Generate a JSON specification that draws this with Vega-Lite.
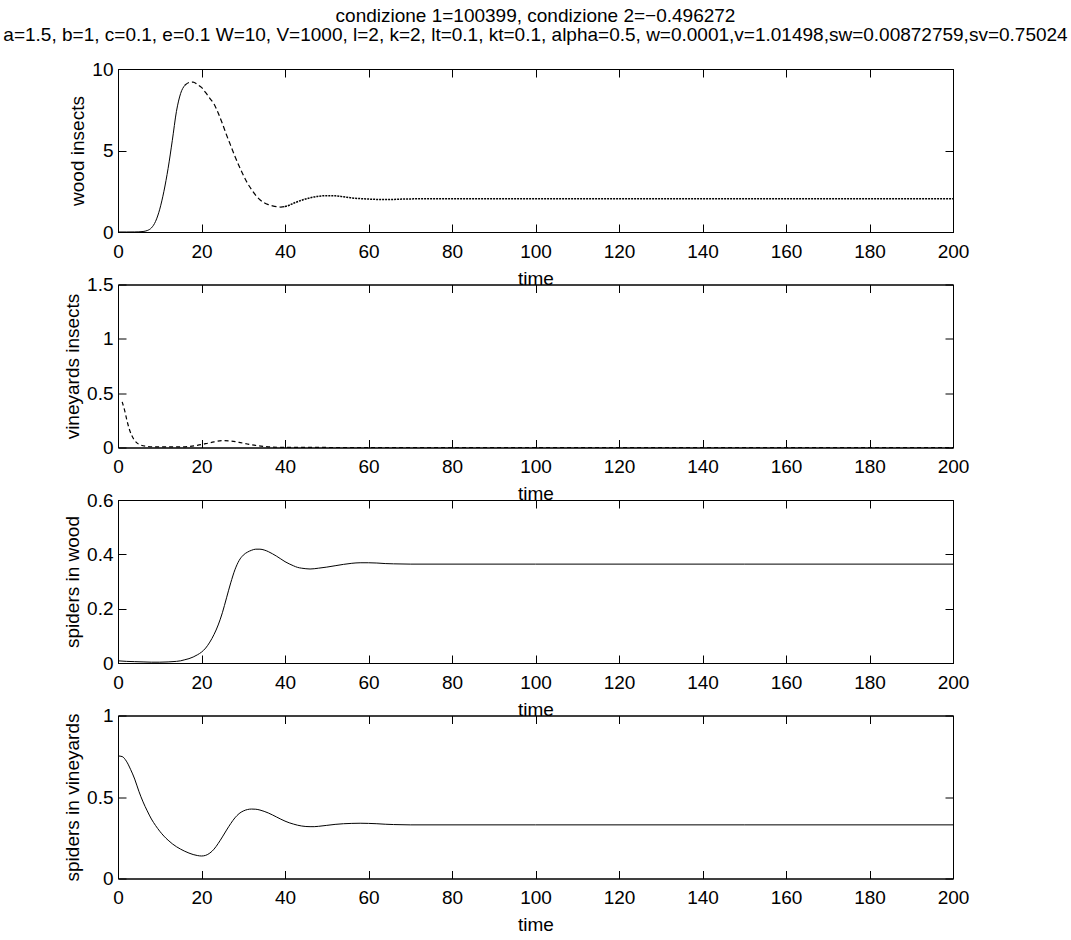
{
  "$schema": "https://vega.github.io/schema/vega-lite/v6.json",
  "padding": {"left": 0, "top": 6, "right": 0, "bottom": 0},
  "title": {
    "text": ["condizione 1=100399, condizione 2=−0.496272", "a=1.5, b=1, c=0.1, e=0.1  W=10, V=1000, l=2, k=2, lt=0.1, kt=0.1, alpha=0.5, w=0.0001,v=1.01498,sw=0.00872759,sv=0.75024"],
    "anchor": "middle",
    "frame": "group",
    "font": "Liberation Sans",
    "fontSize": 19,
    "fontWeight": "normal",
    "lineHeight": 19,
    "color": "black",
    "offset": 15
  },
  "datasets": {
    "d": [
      {"s": "wood", "t": 0, "y": 0.0001}, {"s": "wood", "t": 2, "y": 0.0005}, {"s": "wood", "t": 4, "y": 0.003}, {"s": "wood", "t": 5, "y": 0.01},
      {"s": "wood", "t": 6, "y": 0.03}, {"s": "wood", "t": 7, "y": 0.09}, {"s": "wood", "t": 8, "y": 0.25}, {"s": "wood", "t": 9, "y": 0.65},
      {"s": "wood", "t": 10, "y": 1.4}, {"s": "wood", "t": 11, "y": 2.5}, {"s": "wood", "t": 12, "y": 3.9}, {"s": "wood", "t": 13, "y": 5.6},
      {"s": "wood", "t": 14, "y": 7.4}, {"s": "wood", "t": 15, "y": 8.5}, {"s": "wood", "t": 16, "y": 9.0}, {"s": "wood", "t": 17, "y": 9.17},
      {"s": "wood", "t": 18, "y": 9.2}, {"s": "wood", "t": 19, "y": 9.05}, {"s": "wood", "t": 20, "y": 8.87}, {"s": "wood", "t": 21, "y": 8.55},
      {"s": "wood", "t": 22, "y": 8.2}, {"s": "wood", "t": 23, "y": 7.85}, {"s": "wood", "t": 24, "y": 7.3}, {"s": "wood", "t": 25, "y": 6.65},
      {"s": "wood", "t": 26, "y": 5.95}, {"s": "wood", "t": 27, "y": 5.3}, {"s": "wood", "t": 28, "y": 4.65}, {"s": "wood", "t": 29, "y": 4.05},
      {"s": "wood", "t": 30, "y": 3.5}, {"s": "wood", "t": 31, "y": 3.0}, {"s": "wood", "t": 32, "y": 2.6}, {"s": "wood", "t": 33, "y": 2.25},
      {"s": "wood", "t": 34, "y": 1.98}, {"s": "wood", "t": 35, "y": 1.8}, {"s": "wood", "t": 36, "y": 1.68}, {"s": "wood", "t": 37, "y": 1.6},
      {"s": "wood", "t": 38, "y": 1.55}, {"s": "wood", "t": 39, "y": 1.53}, {"s": "wood", "t": 40, "y": 1.56}, {"s": "wood", "t": 41, "y": 1.64},
      {"s": "wood", "t": 42, "y": 1.76}, {"s": "wood", "t": 43, "y": 1.86}, {"s": "wood", "t": 44, "y": 1.95}, {"s": "wood", "t": 46, "y": 2.1},
      {"s": "wood", "t": 48, "y": 2.19}, {"s": "wood", "t": 50, "y": 2.23}, {"s": "wood", "t": 52, "y": 2.22}, {"s": "wood", "t": 54, "y": 2.16},
      {"s": "wood", "t": 56, "y": 2.09}, {"s": "wood", "t": 58, "y": 2.05}, {"s": "wood", "t": 60, "y": 2.02}, {"s": "wood", "t": 62, "y": 2.0},
      {"s": "wood", "t": 64, "y": 1.99}, {"s": "wood", "t": 66, "y": 2.0}, {"s": "wood", "t": 68, "y": 2.02}, {"s": "wood", "t": 70, "y": 2.03},
      {"s": "wood", "t": 75, "y": 2.04}, {"s": "wood", "t": 80, "y": 2.04}, {"s": "wood", "t": 100, "y": 2.04}, {"s": "wood", "t": 120, "y": 2.04},
      {"s": "wood", "t": 140, "y": 2.04}, {"s": "wood", "t": 160, "y": 2.04}, {"s": "wood", "t": 180, "y": 2.04}, {"s": "wood", "t": 200, "y": 2.04},

      {"s": "vine", "t": 1.0, "y": 0.42}, {"s": "vine", "t": 1.6, "y": 0.34}, {"s": "vine", "t": 2.2, "y": 0.24}, {"s": "vine", "t": 2.7, "y": 0.17},
      {"s": "vine", "t": 3.3, "y": 0.11}, {"s": "vine", "t": 3.9, "y": 0.07}, {"s": "vine", "t": 4.6, "y": 0.04}, {"s": "vine", "t": 5.5, "y": 0.022},
      {"s": "vine", "t": 7, "y": 0.01}, {"s": "vine", "t": 10, "y": 0.005}, {"s": "vine", "t": 14, "y": 0.005}, {"s": "vine", "t": 17, "y": 0.01},
      {"s": "vine", "t": 19, "y": 0.02}, {"s": "vine", "t": 21, "y": 0.035}, {"s": "vine", "t": 23, "y": 0.052}, {"s": "vine", "t": 25, "y": 0.064},
      {"s": "vine", "t": 27, "y": 0.06}, {"s": "vine", "t": 29, "y": 0.047}, {"s": "vine", "t": 31, "y": 0.032}, {"s": "vine", "t": 33, "y": 0.019},
      {"s": "vine", "t": 35, "y": 0.01}, {"s": "vine", "t": 37, "y": 0.004}, {"s": "vine", "t": 40, "y": 0.001}, {"s": "vine", "t": 60, "y": 0},
      {"s": "vine", "t": 100, "y": 0}, {"s": "vine", "t": 150, "y": 0}, {"s": "vine", "t": 200, "y": 0},

      {"s": "sw", "t": 0, "y": 0.008}, {"s": "sw", "t": 2, "y": 0.006}, {"s": "sw", "t": 4, "y": 0.005}, {"s": "sw", "t": 6, "y": 0.004},
      {"s": "sw", "t": 8, "y": 0.003}, {"s": "sw", "t": 10, "y": 0.003}, {"s": "sw", "t": 12, "y": 0.004}, {"s": "sw", "t": 14, "y": 0.006},
      {"s": "sw", "t": 15, "y": 0.008}, {"s": "sw", "t": 16, "y": 0.012}, {"s": "sw", "t": 17, "y": 0.016}, {"s": "sw", "t": 18, "y": 0.022},
      {"s": "sw", "t": 19, "y": 0.03}, {"s": "sw", "t": 20, "y": 0.04}, {"s": "sw", "t": 21, "y": 0.055}, {"s": "sw", "t": 22, "y": 0.077},
      {"s": "sw", "t": 23, "y": 0.105}, {"s": "sw", "t": 24, "y": 0.14}, {"s": "sw", "t": 25, "y": 0.185}, {"s": "sw", "t": 26, "y": 0.24},
      {"s": "sw", "t": 27, "y": 0.295}, {"s": "sw", "t": 28, "y": 0.343}, {"s": "sw", "t": 29, "y": 0.377}, {"s": "sw", "t": 30, "y": 0.397},
      {"s": "sw", "t": 31, "y": 0.408}, {"s": "sw", "t": 32, "y": 0.415}, {"s": "sw", "t": 33, "y": 0.419}, {"s": "sw", "t": 34, "y": 0.419},
      {"s": "sw", "t": 35, "y": 0.416}, {"s": "sw", "t": 36, "y": 0.41}, {"s": "sw", "t": 37, "y": 0.402}, {"s": "sw", "t": 38, "y": 0.393},
      {"s": "sw", "t": 39, "y": 0.383}, {"s": "sw", "t": 40, "y": 0.373}, {"s": "sw", "t": 41, "y": 0.365}, {"s": "sw", "t": 42, "y": 0.358},
      {"s": "sw", "t": 43, "y": 0.352}, {"s": "sw", "t": 44, "y": 0.349}, {"s": "sw", "t": 45, "y": 0.347}, {"s": "sw", "t": 46, "y": 0.346},
      {"s": "sw", "t": 47, "y": 0.347}, {"s": "sw", "t": 48, "y": 0.349}, {"s": "sw", "t": 50, "y": 0.353}, {"s": "sw", "t": 52, "y": 0.358},
      {"s": "sw", "t": 54, "y": 0.363}, {"s": "sw", "t": 56, "y": 0.367}, {"s": "sw", "t": 58, "y": 0.369}, {"s": "sw", "t": 60, "y": 0.369},
      {"s": "sw", "t": 62, "y": 0.368}, {"s": "sw", "t": 64, "y": 0.366}, {"s": "sw", "t": 66, "y": 0.365}, {"s": "sw", "t": 70, "y": 0.364},
      {"s": "sw", "t": 80, "y": 0.364}, {"s": "sw", "t": 100, "y": 0.364}, {"s": "sw", "t": 150, "y": 0.364}, {"s": "sw", "t": 200, "y": 0.364},

      {"s": "sv", "t": 0, "y": 0.752}, {"s": "sv", "t": 1, "y": 0.748}, {"s": "sv", "t": 2, "y": 0.72}, {"s": "sv", "t": 3, "y": 0.67},
      {"s": "sv", "t": 4, "y": 0.61}, {"s": "sv", "t": 5, "y": 0.535}, {"s": "sv", "t": 6, "y": 0.47}, {"s": "sv", "t": 7, "y": 0.415},
      {"s": "sv", "t": 8, "y": 0.365}, {"s": "sv", "t": 9, "y": 0.325}, {"s": "sv", "t": 10, "y": 0.29}, {"s": "sv", "t": 11, "y": 0.26},
      {"s": "sv", "t": 12, "y": 0.235}, {"s": "sv", "t": 13, "y": 0.213}, {"s": "sv", "t": 14, "y": 0.195}, {"s": "sv", "t": 15, "y": 0.18},
      {"s": "sv", "t": 16, "y": 0.167}, {"s": "sv", "t": 17, "y": 0.156}, {"s": "sv", "t": 18, "y": 0.147}, {"s": "sv", "t": 19, "y": 0.141},
      {"s": "sv", "t": 20, "y": 0.138}, {"s": "sv", "t": 21, "y": 0.142}, {"s": "sv", "t": 22, "y": 0.156}, {"s": "sv", "t": 23, "y": 0.18},
      {"s": "sv", "t": 24, "y": 0.215}, {"s": "sv", "t": 25, "y": 0.255}, {"s": "sv", "t": 26, "y": 0.297}, {"s": "sv", "t": 27, "y": 0.337},
      {"s": "sv", "t": 28, "y": 0.372}, {"s": "sv", "t": 29, "y": 0.398}, {"s": "sv", "t": 30, "y": 0.414}, {"s": "sv", "t": 31, "y": 0.423},
      {"s": "sv", "t": 32, "y": 0.426}, {"s": "sv", "t": 33, "y": 0.425}, {"s": "sv", "t": 34, "y": 0.42}, {"s": "sv", "t": 35, "y": 0.412},
      {"s": "sv", "t": 36, "y": 0.402}, {"s": "sv", "t": 37, "y": 0.39}, {"s": "sv", "t": 38, "y": 0.377}, {"s": "sv", "t": 39, "y": 0.364},
      {"s": "sv", "t": 40, "y": 0.352}, {"s": "sv", "t": 41, "y": 0.342}, {"s": "sv", "t": 42, "y": 0.334}, {"s": "sv", "t": 43, "y": 0.327},
      {"s": "sv", "t": 44, "y": 0.322}, {"s": "sv", "t": 45, "y": 0.319}, {"s": "sv", "t": 46, "y": 0.318}, {"s": "sv", "t": 47, "y": 0.318},
      {"s": "sv", "t": 48, "y": 0.32}, {"s": "sv", "t": 50, "y": 0.326}, {"s": "sv", "t": 52, "y": 0.332}, {"s": "sv", "t": 54, "y": 0.336},
      {"s": "sv", "t": 56, "y": 0.338}, {"s": "sv", "t": 58, "y": 0.339}, {"s": "sv", "t": 60, "y": 0.338}, {"s": "sv", "t": 62, "y": 0.336},
      {"s": "sv", "t": 64, "y": 0.333}, {"s": "sv", "t": 66, "y": 0.331}, {"s": "sv", "t": 70, "y": 0.329}, {"s": "sv", "t": 80, "y": 0.329},
      {"s": "sv", "t": 100, "y": 0.329}, {"s": "sv", "t": 150, "y": 0.329}, {"s": "sv", "t": 200, "y": 0.329}
    ]
  },
  "spacing": 52.5,
  "bounds": "flush",
  "vconcat": [
    {
      "width": 835, "height": 163,
      "data": {"name": "d"},
      "transform": [{"filter": "datum.s == 'wood'"}],
      "layer": [
        {
          "transform": [{"filter": "datum.t <= 16"}],
          "mark": {"type": "line", "color": "black", "strokeWidth": 1, "interpolate": "monotone"},
          "encoding": {
            "x": {"field": "t", "type": "quantitative", "scale": {"domain": [0, 200], "nice": false}, "axis": {"orient": "bottom", "title": "time", "values": [0, 20, 40, 60, 80, 100, 120, 140, 160, 180, 200]}},
            "y": {"field": "y", "type": "quantitative", "scale": {"domain": [0, 10], "nice": false}, "axis": {"orient": "left", "title": "wood insects", "values": [0, 5, 10]}}
          }
        },
        {
          "transform": [{"filter": "datum.t >= 16 && datum.t <= 40"}],
          "mark": {"type": "line", "color": "black", "strokeWidth": 1.2, "strokeDash": [5, 3], "interpolate": "monotone"},
          "encoding": {
            "x": {"field": "t", "type": "quantitative", "axis": null},
            "y": {"field": "y", "type": "quantitative", "axis": null}
          }
        },
        {
          "transform": [{"filter": "datum.t >= 40"}],
          "mark": {"type": "line", "color": "black", "strokeWidth": 1.5, "strokeDash": [2, 1], "interpolate": "monotone"},
          "encoding": {
            "x": {"field": "t", "type": "quantitative", "axis": null},
            "y": {"field": "y", "type": "quantitative", "axis": null}
          }
        },
        {
          "mark": {"type": "line", "opacity": 0},
          "encoding": {
            "x": {"field": "t", "type": "quantitative", "axis": {"orient": "top", "labels": false, "title": null, "values": [0, 20, 40, 60, 80, 100, 120, 140, 160, 180, 200]}},
            "y": {"field": "y", "type": "quantitative", "axis": {"orient": "right", "labels": false, "title": null, "values": [0, 5, 10]}}
          }
        }
      ],
      "resolve": {"axis": {"x": "independent", "y": "independent"}}
    },
    {
      "width": 835, "height": 163,
      "data": {"name": "d"},
      "transform": [{"filter": "datum.s == 'vine'"}],
      "layer": [
        {
          "mark": {"type": "line", "color": "black", "strokeWidth": 1.2, "strokeDash": [4, 3], "interpolate": "monotone"},
          "encoding": {
            "x": {"field": "t", "type": "quantitative", "scale": {"domain": [0, 200], "nice": false}, "axis": {"orient": "bottom", "title": "time", "values": [0, 20, 40, 60, 80, 100, 120, 140, 160, 180, 200]}},
            "y": {"field": "y", "type": "quantitative", "scale": {"domain": [0, 1.5], "nice": false}, "axis": {"orient": "left", "title": "vineyards insects", "values": [0, 0.5, 1, 1.5]}}
          }
        },
        {
          "mark": {"type": "line", "opacity": 0},
          "encoding": {
            "x": {"field": "t", "type": "quantitative", "axis": {"orient": "top", "labels": false, "title": null, "values": [0, 20, 40, 60, 80, 100, 120, 140, 160, 180, 200]}},
            "y": {"field": "y", "type": "quantitative", "axis": {"orient": "right", "labels": false, "title": null, "values": [0, 0.5, 1, 1.5]}}
          }
        }
      ],
      "resolve": {"axis": {"x": "independent", "y": "independent"}}
    },
    {
      "width": 835, "height": 163,
      "data": {"name": "d"},
      "transform": [{"filter": "datum.s == 'sw'"}],
      "layer": [
        {
          "mark": {"type": "line", "color": "black", "strokeWidth": 1, "interpolate": "monotone"},
          "encoding": {
            "x": {"field": "t", "type": "quantitative", "scale": {"domain": [0, 200], "nice": false}, "axis": {"orient": "bottom", "title": "time", "values": [0, 20, 40, 60, 80, 100, 120, 140, 160, 180, 200]}},
            "y": {"field": "y", "type": "quantitative", "scale": {"domain": [0, 0.6], "nice": false}, "axis": {"orient": "left", "title": "spiders in wood", "values": [0, 0.2, 0.4, 0.6]}}
          }
        },
        {
          "mark": {"type": "line", "opacity": 0},
          "encoding": {
            "x": {"field": "t", "type": "quantitative", "axis": {"orient": "top", "labels": false, "title": null, "values": [0, 20, 40, 60, 80, 100, 120, 140, 160, 180, 200]}},
            "y": {"field": "y", "type": "quantitative", "axis": {"orient": "right", "labels": false, "title": null, "values": [0, 0.2, 0.4, 0.6]}}
          }
        }
      ],
      "resolve": {"axis": {"x": "independent", "y": "independent"}}
    },
    {
      "width": 835, "height": 163,
      "data": {"name": "d"},
      "transform": [{"filter": "datum.s == 'sv'"}],
      "layer": [
        {
          "mark": {"type": "line", "color": "black", "strokeWidth": 1, "interpolate": "monotone"},
          "encoding": {
            "x": {"field": "t", "type": "quantitative", "scale": {"domain": [0, 200], "nice": false}, "axis": {"orient": "bottom", "title": "time", "values": [0, 20, 40, 60, 80, 100, 120, 140, 160, 180, 200]}},
            "y": {"field": "y", "type": "quantitative", "scale": {"domain": [0, 1], "nice": false}, "axis": {"orient": "left", "title": "spiders in vineyards", "values": [0, 0.5, 1]}}
          }
        },
        {
          "mark": {"type": "line", "opacity": 0},
          "encoding": {
            "x": {"field": "t", "type": "quantitative", "axis": {"orient": "top", "labels": false, "title": null, "values": [0, 20, 40, 60, 80, 100, 120, 140, 160, 180, 200]}},
            "y": {"field": "y", "type": "quantitative", "axis": {"orient": "right", "labels": false, "title": null, "values": [0, 0.5, 1]}}
          }
        }
      ],
      "resolve": {"axis": {"x": "independent", "y": "independent"}}
    }
  ],
  "config": {
    "font": "Liberation Sans",
    "background": "white",
    "view": {"stroke": "black", "strokeWidth": 1},
    "axis": {
      "grid": false,
      "domainColor": "black",
      "domainWidth": 1,
      "tickColor": "black",
      "tickWidth": 1,
      "tickSize": -8,
      "labelColor": "black",
      "labelFont": "Liberation Sans",
      "labelFontSize": 19,
      "labelFlush": false,
      "labelOverlap": false,
      "format": "~r",
      "titleColor": "black",
      "titleFont": "Liberation Sans",
      "titleFontSize": 19,
      "titleFontWeight": "normal"
    },
    "axisX": {"labelPadding": 18, "titlePadding": 8},
    "axisY": {"labelPadding": 13, "titlePadding": 4}
  }
}
